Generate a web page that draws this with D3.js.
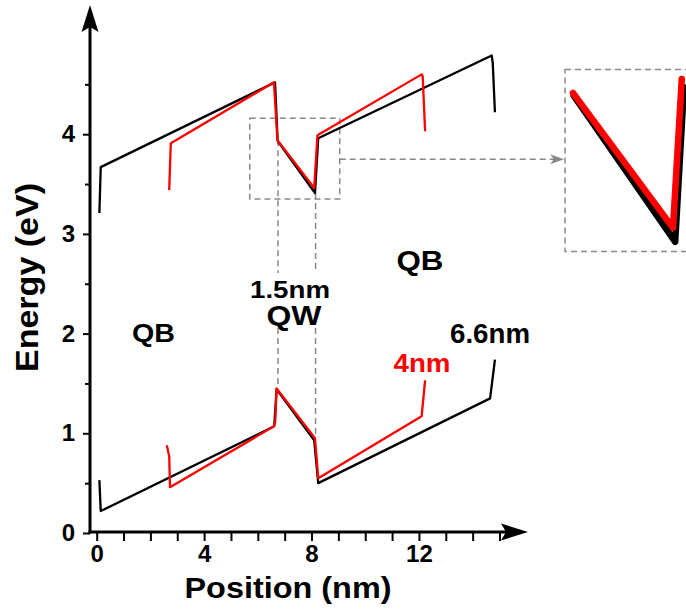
<!DOCTYPE html>
<html>
<head>
<meta charset="utf-8">
<script src="https://cdn.jsdelivr.net/npm/d3@7"></script>
<style>
  body { margin: 0; background: #fff; }
  text { font-family: "Liberation Sans", Arial, sans-serif; font-weight: bold; }
</style>
</head>
<body>
<svg id="chart" width="686" height="610"></svg>
<script>
// band edges: position (nm) / energy (eV)
const cbBlackPos = [0.10, 0.15, 6.64, 6.74, 8.13, 8.25, 14.71, 14.75, 14.83];
const cbBlackE   = [3.21, 3.67, 4.52, 3.93, 3.41, 3.96, 4.79, 4.71, 4.22];
const cbRedPos   = [2.70, 2.76, 6.60, 6.73, 8.10, 8.22, 12.10, 12.14, 12.23];
const cbRedE     = [3.44, 3.91, 4.52, 3.94, 3.46, 3.99, 4.60, 4.58, 4.03];
const vbBlackPos = [0.10, 0.15, 6.61, 6.70, 8.10, 8.25, 14.65, 14.83];
const vbBlackE   = [0.53, 0.22, 1.07, 1.44, 0.93, 0.50, 1.35, 1.74];
const vbRedPos   = [2.61, 2.70, 2.73, 6.60, 6.65, 6.70, 8.13, 8.25, 12.10, 12.23];
const vbRedE     = [0.88, 0.77, 0.46, 1.07, 1.12, 1.45, 0.95, 0.55, 1.17, 1.53];

const xMajor = [0, 4, 8, 12];
const yMajor = [0, 1, 2, 3, 4];

const svg = d3.select('#chart');
const x = d3.scaleLinear().domain([0, 15]).range([96.7, 499.5]);
const y = d3.scaleLinear().domain([0, 5]).range([533, 34.5]);
const axisX = 90, axisY = 532;

const zip = (p, e) => p.map((d, i) => [d, e[i]]);
const line = d3.line().x(d => x(d[0])).y(d => y(d[1]));

// x axis ticks
const gx = svg.append('g').attr('transform', `translate(0,${axisY})`)
    .call(d3.axisBottom(x).tickValues(d3.range(0, 16)).tickSize(9).tickPadding(4)
        .tickFormat(d => xMajor.includes(d) ? d : ''));
gx.select('.domain').remove();
gx.selectAll('line').attr('stroke', '#000').attr('stroke-width', 2);
gx.selectAll('text').attr('font-size', 24).attr('fill', '#000');

// y axis ticks
const gy = svg.append('g').attr('transform', `translate(${axisX},0)`)
    .call(d3.axisLeft(y).tickValues(d3.range(0, 4.6, 0.5)).tickSize(5).tickPadding(10)
        .tickFormat(d => yMajor.includes(d) ? d : ''));
gy.select('.domain').remove();
gy.selectAll('line').attr('stroke', '#000').attr('stroke-width', 2);
gy.selectAll('.tick').filter(d => yMajor.includes(d)).select('line').attr('x2', -7);
gy.selectAll('text').attr('font-size', 24).attr('fill', '#000');

// axis lines with arrows
svg.append('line').attr('x1', axisX).attr('x2', axisX).attr('y1', axisY + 1.5).attr('y2', 20)
    .attr('stroke', '#000').attr('stroke-width', 3);
svg.append('line').attr('x1', axisX - 1.5).attr('x2', 515).attr('y1', axisY).attr('y2', axisY)
    .attr('stroke', '#000').attr('stroke-width', 3);
svg.append('path').attr('d', `M${axisX},5 L${axisX + 8.5},32 L${axisX},27 L${axisX - 8.5},32 Z`);
svg.append('path').attr('d', `M528,${axisY} L501,${axisY - 8.5} L506,${axisY} L501,${axisY + 8.5} Z`);

// axis titles
svg.append('text').attr('x', 288).attr('y', 598).attr('text-anchor', 'middle')
    .attr('font-size', 30).attr('textLength', 207).attr('lengthAdjust', 'spacingAndGlyphs')
    .text('Position (nm)');
svg.append('text').attr('transform', 'translate(37.5,277.5) rotate(-90)').attr('text-anchor', 'middle')
    .attr('font-size', 31).attr('textLength', 189).attr('lengthAdjust', 'spacingAndGlyphs')
    .text('Energy (eV)');

// dashed guides
const dash = g => g.attr('fill', 'none').attr('stroke', '#888').attr('stroke-width', 1.5)
    .attr('stroke-dasharray', '6,4');
const box = { x0: 5.7, x1: 9.05, e0: 3.35, e1: 4.16 };
svg.append('rect').attr('x', x(box.x0)).attr('y', y(box.e1))
    .attr('width', x(box.x1) - x(box.x0)).attr('height', y(box.e0) - y(box.e1)).call(dash);
svg.append('path').attr('d', `M${x(6.75)},${y(3.94)}V273M${x(6.75)},328V${y(1.45)}`).call(dash);
svg.append('path').attr('d', `M${x(8.15)},${y(3.41)}V273M${x(8.15)},328V${y(0.95)}`).call(dash);
svg.append('path').attr('d', `M${x(box.x1)},${y(3.75)}H556`).call(dash);
svg.append('path').attr('d', `M564,${y(3.75)} L550,${y(3.75) - 5} L554,${y(3.75)} L550,${y(3.75) + 5} Z`)
    .attr('fill', '#888');
svg.append('rect').attr('x', 565).attr('y', 69.5).attr('width', 140).attr('height', 182).call(dash);

// band lines
const drawBand = (p, e, color) => svg.append('path').datum(zip(p, e)).attr('d', line)
    .attr('fill', 'none').attr('stroke', color).attr('stroke-width', 2.3).attr('stroke-linejoin', 'round');
drawBand(cbBlackPos, cbBlackE, '#000');
drawBand(vbBlackPos, vbBlackE, '#000');
drawBand(cbRedPos, cbRedE, '#ff0000');
drawBand(vbRedPos, vbRedE, '#ff0000');

// inset: the quantum well part of the conduction band, enlarged
const xi = d3.scaleLinear().domain([6.6, 8.4]).range([563.5, 694.9]);
const yi = d3.scaleLinear().domain([3.3, 4.05]).range([272.8, 62.05]);
const lineI = d3.line().x(d => xi(d[0])).y(d => yi(d[1]));
[[cbBlackPos, cbBlackE, '#000'], [cbRedPos, cbRedE, '#ff0000']].forEach(([p, e, c]) => {
  svg.append('path').datum(zip(p, e).slice(3, 6)).attr('d', lineI)
      .attr('fill', 'none').attr('stroke', c).attr('stroke-width', 6.5)
      .attr('stroke-linejoin', 'round').attr('stroke-linecap', 'round');
});

// labels
const label = (t, cx, by, size, len, color) => svg.append('text')
    .attr('x', cx).attr('y', by).attr('text-anchor', 'middle').attr('font-size', size)
    .attr('textLength', len).attr('lengthAdjust', 'spacingAndGlyphs')
    .attr('fill', color || '#000').text(t);
label('QB', 153.5, 342, 25, 43);
label('1.5nm', 290, 298, 23, 80);
label('QW', 294, 325, 27, 55);
label('QB', 420, 270, 27, 47);
label('6.6nm', 490, 343, 27, 80);
label('4nm', 422, 372, 26, 57, '#ff0000');
</script>
</body>
</html>
